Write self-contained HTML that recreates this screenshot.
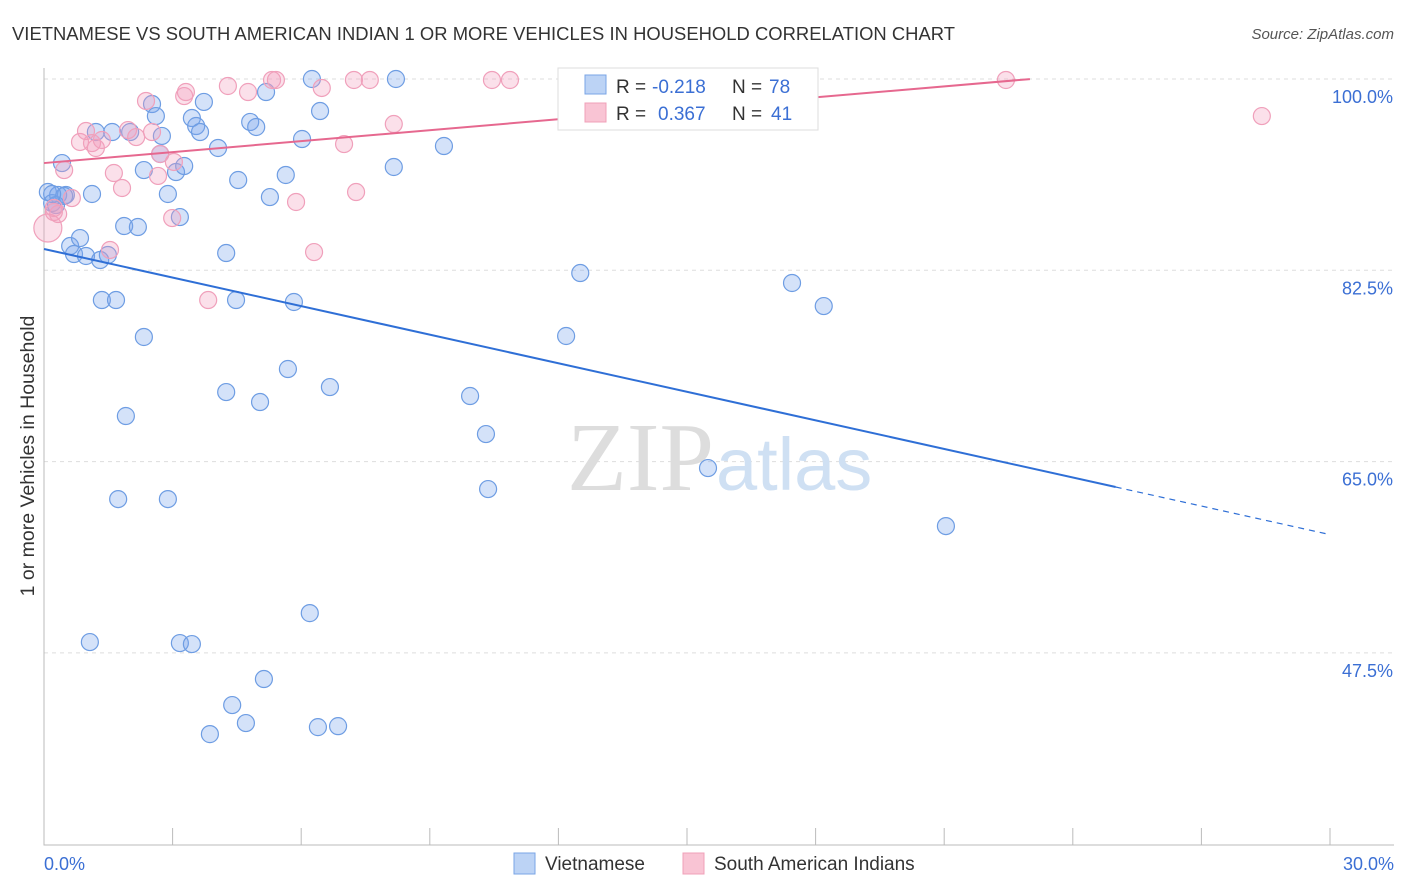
<!DOCTYPE html>
<html><head><meta charset="utf-8"><style>
body{margin:0;background:#fff;font-family:"Liberation Sans",sans-serif}
svg{display:block}
</style></head><body>
<svg id="c" width="1406" height="892">
<text x="12" y="40" font-size="18.4" fill="#333" textLength="943">VIETNAMESE VS SOUTH AMERICAN INDIAN 1 OR MORE VEHICLES IN HOUSEHOLD CORRELATION CHART</text>
<text x="1394" y="39" font-size="15" fill="#555" font-style="italic" text-anchor="end">Source: ZipAtlas.com</text>
<text transform="translate(34,456) rotate(-90)" font-size="19.5" fill="#333" text-anchor="middle">1 or more Vehicles in Household</text>
<g id="grid"></g>
<text x="714" y="490" font-size="98" fill="#ddd" font-family="Liberation Serif" text-anchor="end">ZIP</text>
<text x="716" y="490" font-size="74" fill="#cfe0f3" text-anchor="start">atlas</text>
<g id="pts"></g>
<g id="lines"></g>
<g>
<rect x="558" y="68" width="260" height="62" fill="#fff" stroke="#ddd"/>
<rect x="585" y="75" width="21" height="19" fill="#bcd3f5" stroke="#7aa4e6"/>
<rect x="585" y="103" width="21" height="19" fill="#f9c4d4" stroke="#f0a0b8"/>
<text x="616" y="93" font-size="19" fill="#333">R =</text>
<text x="652" y="93" font-size="19" fill="#3b6fd4">-0.218</text>
<text x="732" y="93" font-size="19" fill="#333">N =</text>
<text x="769" y="93" font-size="19" fill="#3b6fd4">78</text>
<text x="616" y="120" font-size="19" fill="#333">R =</text>
<text x="658" y="120" font-size="19" fill="#3b6fd4">0.367</text>
<text x="732" y="120" font-size="19" fill="#333">N =</text>
<text x="771" y="120" font-size="19" fill="#3b6fd4">41</text>
</g>
<g>
<rect x="514" y="853" width="21" height="21" fill="#bcd3f5" stroke="#7aa4e6"/>
<text x="545" y="870" font-size="19" fill="#333">Vietnamese</text>
<rect x="683" y="853" width="21" height="21" fill="#f9c4d4" stroke="#f0a0b8"/>
<text x="714" y="870" font-size="19" fill="#333">South American Indians</text>
</g>
<text x="44" y="870" font-size="18" fill="#3b6fd4">0.0%</text>
<text x="1394" y="870" font-size="18" fill="#3b6fd4" text-anchor="end">30.0%</text>
</svg>
<script>
const yTicks=[100,82.5,65,47.5];
const yTickLabels=["100.0%","82.5%","65.0%","47.5%"];
const xTicks=[0,3,6,9,12,15,18,21,24,27,30];
const blueX=[0.09,0.19,0.33,0.42,0.51,0.61,0.70,0.84,0.98,1.12,1.21,1.31,1.35,1.49,1.59,1.68,1.87,1.91,1.73,2.01,2.19,2.33,2.33,2.52,2.61,2.71,2.75,2.89,2.89,3.08,3.17,3.27,3.17,3.45,3.45,3.55,3.64,3.73,4.06,4.25,4.25,4.39,4.48,4.53,3.87,4.71,4.81,4.95,5.04,5.18,5.13,5.27,5.64,5.69,5.83,6.02,6.20,6.25,6.39,6.44,6.67,6.86,8.16,8.21,9.33,9.94,10.31,10.36,12.18,12.51,15.49,17.45,18.19,21.04,1.07,0.28,0.47,0.19];
const blueY=[89.66,88.65,89.39,92.31,89.39,84.72,83.99,85.45,83.81,89.48,95.15,83.44,79.78,83.90,95.15,79.78,86.55,69.17,61.57,95.15,86.46,76.40,91.67,97.71,96.61,93.14,94.79,89.48,61.57,91.49,87.37,92.04,48.40,96.43,48.31,95.70,95.15,97.90,93.69,84.08,71.36,42.73,79.78,90.76,40.07,41.08,96.07,95.61,70.45,98.81,45.11,89.20,91.22,73.47,79.60,94.51,51.14,100,40.71,97.07,71.82,40.80,91.95,100,93.87,71.00,67.52,62.49,76.49,82.25,64.41,81.34,79.23,59.10,48.49,88.47,89.30,89.48];
const pinkX=[0.09,0.23,0.33,0.47,0.65,0.84,0.98,1.12,1.21,1.35,1.54,1.63,1.82,1.96,2.15,2.38,2.52,2.66,2.71,2.99,3.03,3.27,3.31,3.83,4.29,4.76,5.32,5.41,5.88,6.30,6.48,7.00,7.23,7.28,7.60,8.16,10.45,10.87,22.44,28.41,0.23];
const pinkY=[86.37,87.83,87.65,91.67,89.11,94.24,95.24,94.14,93.69,94.42,84.36,91.40,90.03,95.33,94.69,97.99,95.15,91.13,93.14,87.28,92.41,98.44,98.81,79.78,99.36,98.81,99.91,99.91,88.75,84.17,99.18,94.05,99.91,89.66,99.91,95.88,99.91,99.91,99.91,96.61,88.20];
const blueTrend=[84.45,-0.871];
const pinkTrend=[92.31,0.334];
const NS="http://www.w3.org/2000/svg";
const sx=v=>44+v*(1286/30);
const sy=v=>79+(100-v)*(191.3/17.5);
function mk(tag,attrs,parent){const e=document.createElementNS(NS,tag);for(const k in attrs)e.setAttribute(k,attrs[k]);parent.appendChild(e);return e;}
const grid=document.getElementById('grid');
yTicks.forEach((t,i)=>{
 const l=mk('line',{x1:44,x2:1394,y1:sy(t),y2:sy(t),stroke:'#ddd','stroke-dasharray':'4,4'},grid);
 
 
 const tx=mk('text',{x:1393,y:sy(t)+24,'font-size':18,fill:'#3b6fd4','text-anchor':'end'},grid);
 tx.textContent=yTickLabels[i];
 
 
});
const ax=mk('path',{d:'M44 68V845H1394',stroke:'#bbb',fill:'none'},grid);


xTicks.forEach(t=>{
 const l=mk('line',{x1:sx(t),x2:sx(t),y1:828,y2:845,stroke:'#bbb'},grid);
 
 
});
const pts=document.getElementById('pts');
blueX.forEach((x,i)=>{
 const c=mk('circle',{cx:sx(x),cy:sy(blueY[i]),r:8.5,fill:'rgba(120,165,235,0.32)',stroke:'#6e9de3','stroke-width':1.2},pts);
 
 
});
pinkX.forEach((x,i)=>{
 const c=mk('circle',{cx:sx(x),cy:sy(pinkY[i]),r:i==0?14:8.5,fill:'rgba(242,160,190,0.32)',stroke:'#f0a0bb','stroke-width':1.2},pts);
 
 
});
const lines=document.getElementById('lines');
const bt=x=>blueTrend[0]+blueTrend[1]*x, pt=x=>pinkTrend[0]+pinkTrend[1]*x;
let l1=mk('line',{x1:sx(0),y1:sy(bt(0)),x2:sx(25),y2:sy(bt(25)),stroke:'#2f6fd6','stroke-width':2},lines);


let l2=mk('line',{x1:sx(25),y1:sy(bt(25)),x2:sx(30),y2:sy(bt(30)),stroke:'#2f6fd6','stroke-width':1.2,'stroke-dasharray':'6,5'},lines);


let l3=mk('line',{x1:sx(0),y1:sy(pt(0)),x2:sx(23),y2:sy(pt(23)),stroke:'#e6688f','stroke-width':2},lines);


</script>
</body></html>
